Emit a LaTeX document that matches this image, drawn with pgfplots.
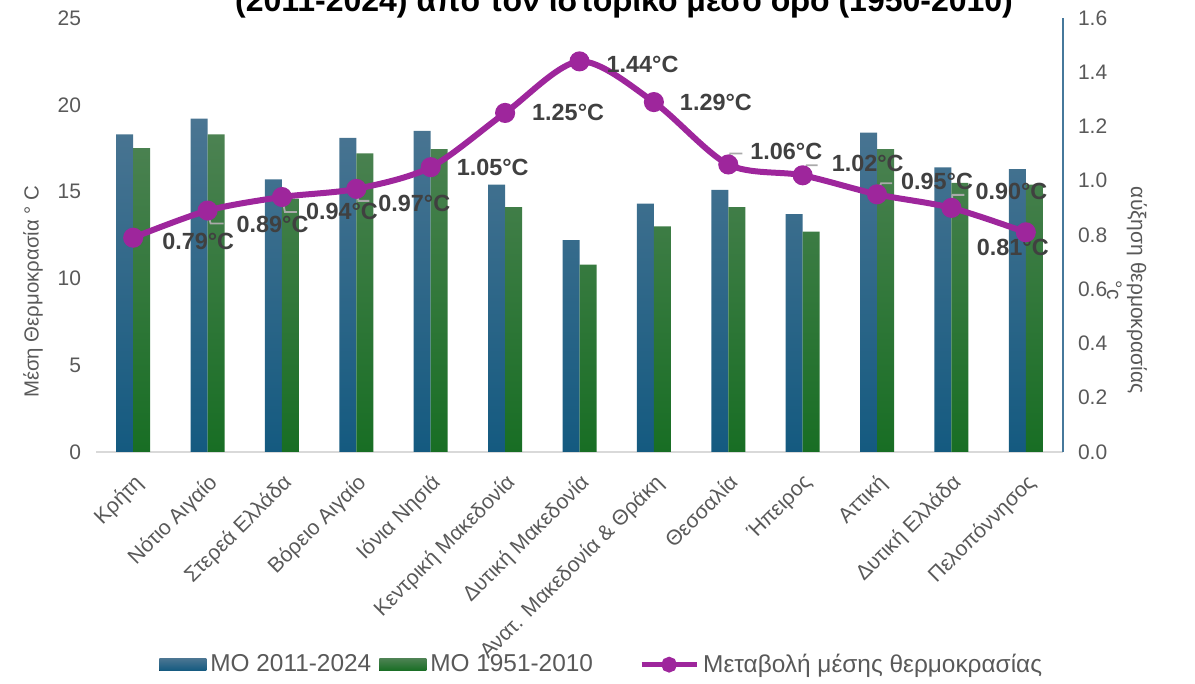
\documentclass[border=0pt]{standalone}
\usepackage{fontspec}
\setmainfont{Liberation Sans}
\usepackage{pgfplots}
\usepackage{pgfplotstable}
\pgfplotsset{compat=1.18}

\definecolor{bluetop}{RGB}{74,117,146}
\definecolor{bluebot}{RGB}{20,90,128}
\definecolor{greentop}{RGB}{76,130,82}
\definecolor{greenbot}{RGB}{24,110,36}
\definecolor{linepurple}{RGB}{158,38,156}
\definecolor{ticktext}{RGB}{89,89,89}
\definecolor{labeltext}{RGB}{64,64,64}
\definecolor{rightaxis}{RGB}{70,120,155}
\definecolor{leader}{RGB}{170,170,170}

% recent = MO 2011-2024, hist = MO 1951-2010, delta = change (right axis)
\pgfplotstableread{
x  recent  hist  delta
0  18.3  17.5  0.79
1  19.2  18.3  0.89
2  15.7  14.6  0.94
3  18.1  17.2  0.97
4  18.5  17.45 1.05
5  15.4  14.1  1.25
6  12.2  10.8  1.44
7  14.3  13.0  1.29
8  15.1  14.1  1.06
9  13.7  12.7  1.02
10 18.4  17.45 0.95
11 16.4  15.5  0.90
12 16.3  15.4  0.81
}\datatable

\pgfplotsset{
  base/.style={
    at={(48pt,116pt)}, anchor=south west,
    scale only axis, width=483.5pt, height=217pt,
    xmin=-0.5, xmax=12.5,
    major tick length=0pt,
    clip=false,
    tick label style={font=\fontsize{10.5}{12}\selectfont, text=ticktext},
    /pgf/number format/assume math mode=true,
  },
  rectlegend/.style={legend image code/.code={\fill[##1] (0pt,-3pt) rectangle (23.5pt,3pt);}},
  linelegend/.style={legend image code/.code={
    \draw[##1] (0pt,0pt) -- (27.5pt,0pt);
    \fill[linepurple] (13.75pt,0pt) circle (2.6pt);}},
}

\begin{document}
\begin{tikzpicture}

\begin{axis}[
  base,
  ymin=0, ymax=25, ytick={0,5,...,25},
  xtick={0,...,12},
  xticklabels={Κρήτη, Νότιο Αιγαίο, Στερεά Ελλάδα, Βόρειο Αιγαίο, Ιόνια Νησιά,
    Κεντρική Μακεδονία, Δυτική Μακεδονία, Ανατ. Μακεδονία \& Θράκη, Θεσσαλία,
    Ήπειρος, Αττική, Δυτική Ελλάδα, Πελοπόννησος},
  xticklabel style={xshift=-0.35pt, yshift=-5.3pt, rotate=45, anchor=north east,
    font=\fontsize{10.6}{12}\selectfont},
  yticklabel style={xshift=-4pt},
  axis x line*=bottom, axis y line*=left,
  x axis line style={draw=black!15, line width=1pt, -},
  y axis line style={draw=none},
  ylabel={Μέση Θερμοκρασία ° C},
  ylabel style={at={(axis description cs:-0.065,0.369)}, anchor=center,
    font=\fontsize{10.2}{12}\selectfont, text=ticktext},
  ybar=0pt, bar width=8.5pt,
  legend style={draw=none, fill=none, at={(0.524,-0.49)}, anchor=center,
    font=\fontsize{12.2}{14}\selectfont, text=ticktext,
    legend columns=3,
    /tikz/every even column/.append style={column sep=2pt}},
]
\addplot[draw=none, top color=bluetop, bottom color=bluebot, rectlegend]
  table[x=x, y=recent]{\datatable};
\addlegendentry{ΜΟ 2011-2024}
\addplot[draw=none, top color=greentop, bottom color=greenbot, rectlegend]
  table[x=x, y=hist]{\datatable};
\addlegendentry{ΜΟ 1951-2010\hspace*{19pt}\mbox{}}
\addlegendimage{linepurple, line width=2.6pt, linelegend}
\addlegendentry{Μεταβολή μέσης θερμοκρασίας}
\end{axis}

\begin{axis}[
  base,
  ymin=0, ymax=1.6, ytick={0,0.2,...,1.6},
  axis y line*=right, axis x line=none,
  y axis line style={draw=rightaxis, line width=0.8pt, -},
  yticklabel style={xshift=4pt, /pgf/number format/.cd, fixed, fixed zerofill, precision=1},
  ylabel={αύξηση θερμοκρασίας\\°c},
  ylabel style={at={(axis description cs:1.066,0.373)}, anchor=center, rotate=180,
    align=center, font=\fontsize{10.5}{12}\selectfont, text=ticktext},
]
% leader lines of the data labels
\begin{scope}[leader, line width=0.9pt]
\draw (axis cs:1,0.89)  -- ++(1.5pt,-6.5pt) -- ++(6.5pt,0pt);
\draw (axis cs:2,0.94)  -- ++(1.5pt,-7.5pt) -- ++(6pt,0pt);
\draw (axis cs:3,0.97)  -- ++(1pt,-6pt)     -- ++(5.5pt,0pt);
\draw (axis cs:8,1.06)  -- ++(1pt,5.5pt)    -- ++(6pt,0pt);
\draw (axis cs:9,1.02)  -- ++(2pt,5pt)      -- ++(5.5pt,0pt);
\draw (axis cs:10,0.95) -- ++(2pt,5.5pt)    -- ++(5.5pt,0pt);
\draw (axis cs:11,0.90) -- ++(0.5pt,6.5pt)  -- ++(6pt,0pt);
\end{scope}

\addplot[linepurple, line width=3pt, smooth, mark=*, mark size=3.5pt,
  mark options={fill=linepurple, draw=linepurple}]
  table[x=x, y=delta]{\datatable};

\begin{scope}[every node/.style={font=\bfseries\fontsize{11.7}{13}\selectfont, text=labeltext}]
\node[xshift=32.5pt, yshift=-2pt]   at (axis cs:0,0.79)  {0.79°C};
\node[xshift=32.5pt, yshift=-7pt]   at (axis cs:1,0.89)  {0.89°C};
\node[xshift=30pt, yshift=-7pt]     at (axis cs:2,0.94)  {0.94°C};
\node[xshift=29pt, yshift=-7.5pt]   at (axis cs:3,0.97)  {0.97°C};
\node[xshift=31pt]                  at (axis cs:4,1.05)  {1.05°C};
\node[xshift=31.5pt]                at (axis cs:5,1.25)  {1.25°C};
\node[xshift=31.5pt, yshift=-1.5pt] at (axis cs:6,1.44)  {1.44°C};
\node[xshift=31pt]                  at (axis cs:7,1.29)  {1.29°C};
\node[xshift=29pt, yshift=6.5pt]    at (axis cs:8,1.06)  {1.06°C};
\node[xshift=32.5pt, yshift=6pt]    at (axis cs:9,1.02)  {1.02°C};
\node[xshift=30pt, yshift=6.5pt]    at (axis cs:10,0.95) {0.95°C};
\node[xshift=30pt, yshift=8pt]      at (axis cs:11,0.90) {0.90°C};
\node[xshift=-6.5pt, yshift=-7.5pt] at (axis cs:12,0.81) {0.81°C};
\end{scope}
\end{axis}

\node[font=\bfseries\fontsize{16}{18}\selectfont, anchor=base] at (312pt,336pt)
  {(2011-2024) από τον ιστορικό μέσο όρο (1950-2010)};

\pgfresetboundingbox
\useasboundingbox (0pt,0pt) rectangle (597.5pt,342pt);
\end{tikzpicture}
\end{document}
